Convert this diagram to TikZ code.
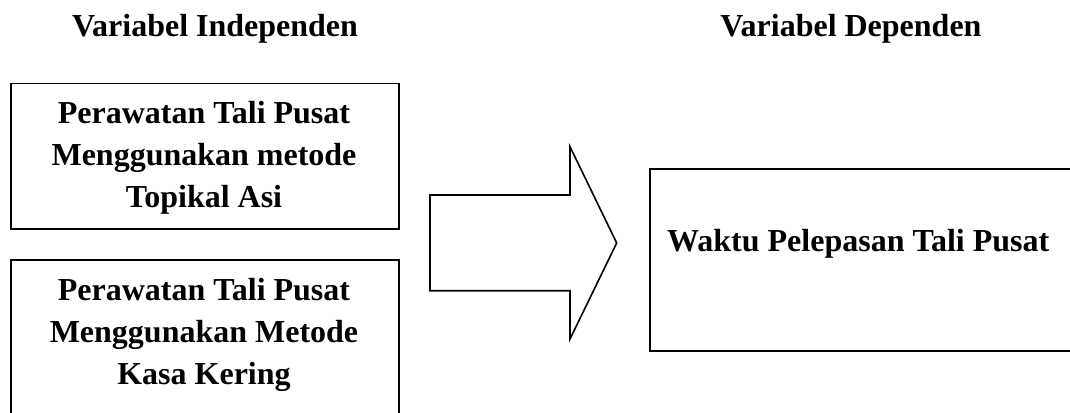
\documentclass[tikz,border=0pt]{standalone}
\usepackage{fontspec}
\setmainfont{Liberation Serif}
\begin{document}
\begin{tikzpicture}[x=1pt,y=-1pt,
  frame/.style={draw=black, line width=1.6pt, fill=white, inner sep=0pt},
  boxtext/.style={inner sep=0pt, align=center, font=\bfseries\fontsize{32}{42}\selectfont},
  heading/.style={inner sep=0pt, font=\bfseries\fontsize{32}{42}\selectfont}]
\useasboundingbox (0,0) rectangle (1070,412);
\clip (0,0) rectangle (1070,412);

% column headings
\node[heading, anchor=base] (hind) at (215,36.7) {Variabel Independen};
\node[heading, anchor=base] (hdep) at (851,36.7) {Variabel Dependen};

% independent variables
\node[frame, anchor=north west, minimum width=388pt, minimum height=145.3pt] (ind1) at (10,82.7) {};
\node[boxtext] (ind1t) at (204,157.6) {Perawatan Tali Pusat\\Menggunakan metode\\Topikal Asi};

\node[frame, anchor=north west, minimum width=388pt, minimum height=160pt] (ind2) at (10,259) {};
\node[boxtext] (ind2t) at (204,335.2) {Perawatan Tali Pusat\\Menggunakan Metode\\Kasa Kering};

% block arrow
\draw[line width=1.6pt, line join=miter]
  (430,195) -- (570,195) -- (570,146.7) -- (616.7,243) -- (570,339)
  -- (570,290.7) -- (430,290.7) -- cycle;

% dependent variable
\node[frame, anchor=north west, minimum width=440pt, minimum height=181.7pt] (dep) at (649,168.3) {};
\node[heading, anchor=base west] (dept) at (667,251.7) {Waktu Pelepasan Tali Pusat};
\end{tikzpicture}
\end{document}
